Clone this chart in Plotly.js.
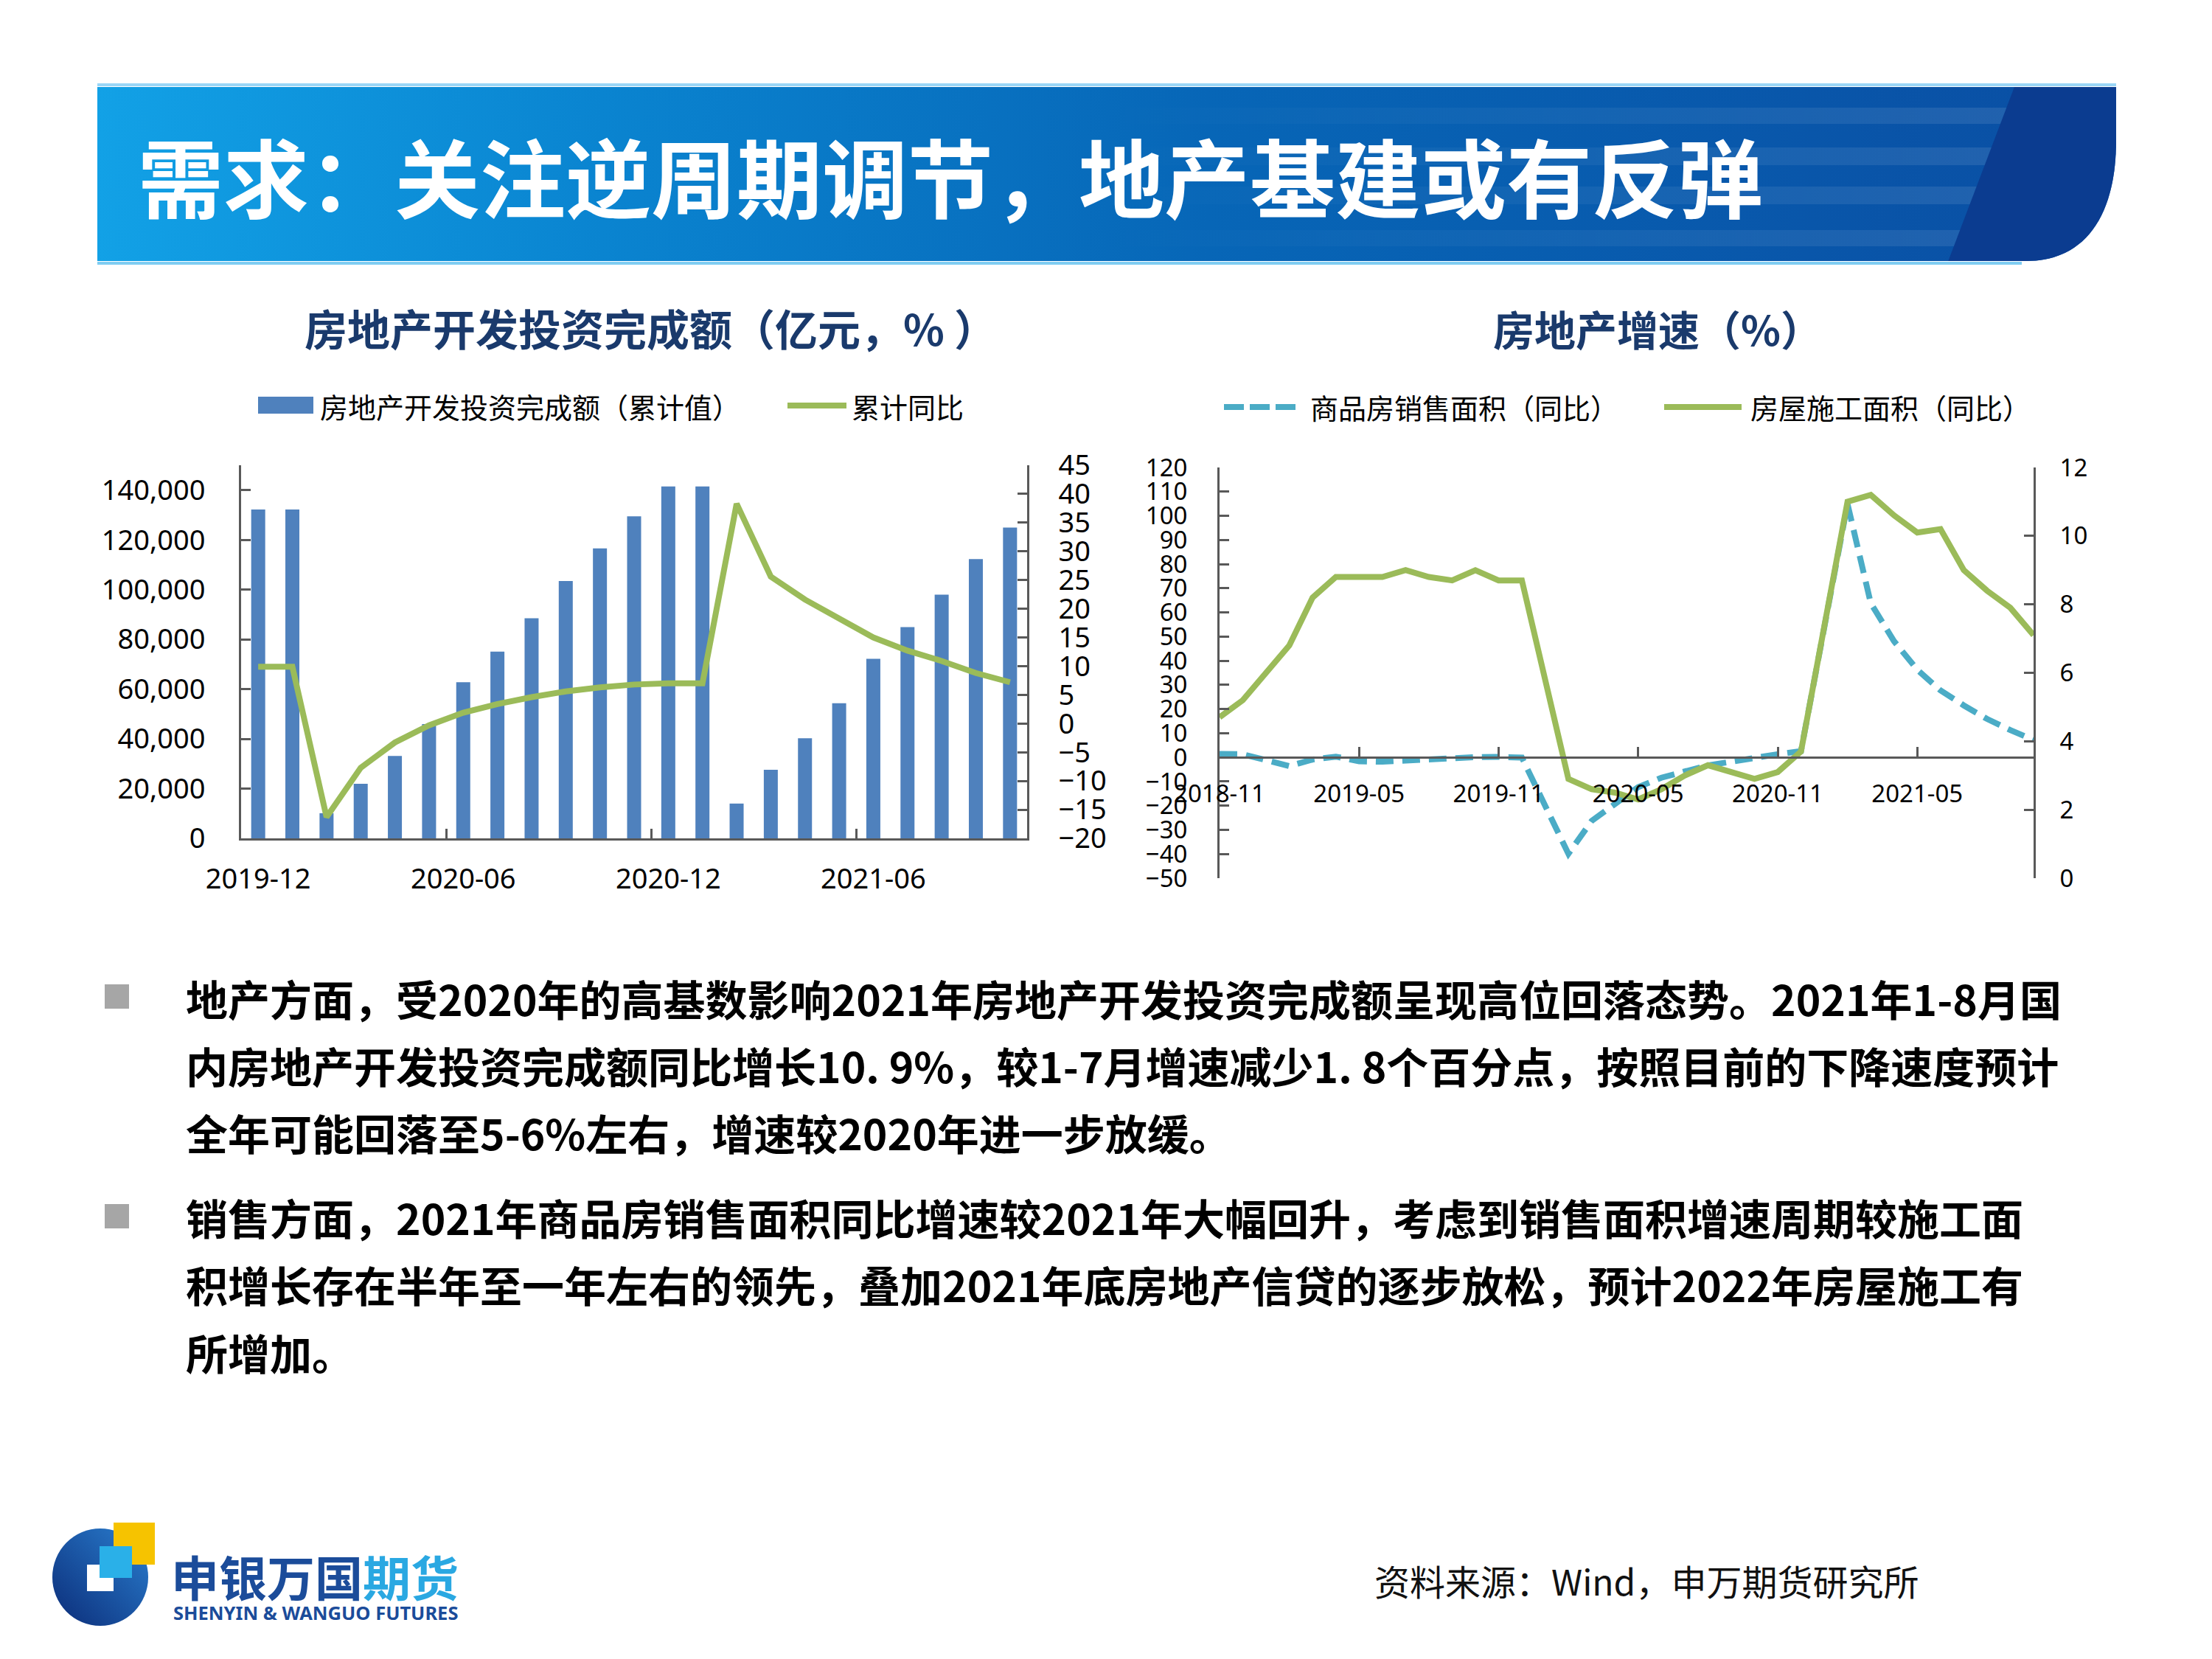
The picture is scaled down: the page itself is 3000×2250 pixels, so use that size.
<!DOCTYPE html>
<html><head><meta charset="utf-8">
<script src="https://cdn.plot.ly/plotly-3.0.1.min.js"></script>
<style>html,body{margin:0;padding:0;background:#fff;}#chart{width:3000px;height:2250px;}</style>
</head><body><div id="chart"></div>
<script>
// ---------- data ----------
const investMonths = ['2019-12','2020-01','2020-02','2020-03','2020-04','2020-05','2020-06','2020-07','2020-08','2020-09','2020-10','2020-11','2020-12','2021-01','2021-02','2021-03','2021-04','2021-05','2021-06','2021-07','2021-08','2021-09','2021-10'];
const investCumulative = [132194,132194,10115,21963,33103,45920,62780,75096,88454,103484,116556,129492,141443,141443,13986,27576,40240,54318,72179,84895,98010,112278,124934];
const investYoY = [9.9,9.9,-16.3,-7.7,-3.3,-0.3,1.9,3.4,4.6,5.6,6.3,6.8,7.0,7.0,38.3,25.6,21.6,18.3,15.0,12.7,10.9,8.8,7.2];

const areaMonths = ['2018-11','2018-12','2019-01','2019-02','2019-03','2019-04','2019-05','2019-06','2019-07','2019-08','2019-09','2019-10','2019-11','2019-12','2020-01','2020-02','2020-03','2020-04','2020-05','2020-06','2020-07','2020-08','2020-09','2020-10','2020-11','2020-12','2021-01','2021-02','2021-03','2021-04','2021-05','2021-06','2021-07','2021-08','2021-09','2021-10'];
const salesAreaYoY = [1.4,1.3,null,-3.6,-0.9,0.3,-1.6,-1.8,-1.3,-0.6,-0.1,0.1,0.2,-0.1,null,-39.9,-26.3,-19.3,-12.3,-8.4,-5.8,-3.3,-1.8,0.0,1.3,2.6,null,104.9,63.8,48.1,36.3,27.7,21.5,15.9,11.3,7.2];
const constructionAreaYoY = [4.7,5.2,null,6.8,8.2,8.8,8.8,8.8,9.0,8.8,8.7,9.0,8.7,8.7,null,2.9,2.6,2.5,2.3,2.6,3.0,3.3,3.1,2.9,3.1,3.7,null,11.0,11.2,10.6,10.1,10.2,9.0,8.4,7.9,7.1];

const pageTitle = '需求：关注逆周期调节，地产基建或有反弹';
const leftTitle = '房地产开发投资完成额（亿元，% ）';
const rightTitle = '房地产增速（%）';
const legendNames = ['房地产开发投资完成额（累计值）','累计同比','商品房销售面积（同比）','房屋施工面积（同比）'];
const bodyLines = [
  '地产方面，受2020年的高基数影响2021年房地产开发投资完成额呈现高位回落态势。2021年1-8月国',
  '内房地产开发投资完成额同比增长10. 9%，较1-7月增速减少1. 8个百分点，按照目前的下降速度预计',
  '全年可能回落至5-6%左右，增速较2020年进一步放缓。',
  '销售方面，2021年商品房销售面积同比增速较2021年大幅回升，考虑到销售面积增速周期较施工面',
  '积增长存在半年至一年左右的领先，叠加2021年底房地产信贷的逐步放松，预计2022年房屋施工有',
  '所增加。'
];
const sourceText = '资料来源：Wind，申万期货研究所';

// ---------- helpers ----------
const W = 3000, H = 2250;
const px = x => x / W;
const py = y => 1 - y / H;
const CJK = '"Noto Sans CJK SC", "Noto Sans", sans-serif';
const NUM = '"Noto Sans", "Liberation Sans", Arial, sans-serif';
const BLUE = '#4F81BD', GREEN = '#9BBB59', CYAN = '#4BACC6', AX = '#595959';

// ---------- decoration (banner + logo graphic) ----------
const svg = `<svg xmlns="http://www.w3.org/2000/svg" width="3000" height="2250" viewBox="0 0 3000 2250">
<defs>
<linearGradient id="g" x1="0" y1="0" x2="1" y2="0">
<stop offset="0" stop-color="#12A1E6"/><stop offset="0.25" stop-color="#0A84D0"/>
<stop offset="0.55" stop-color="#0766B7"/><stop offset="1" stop-color="#0A4EA3"/></linearGradient>
<linearGradient id="s" x1="0" y1="0" x2="1" y2="0">
<stop offset="0" stop-color="#ffffff" stop-opacity="0"/><stop offset="1" stop-color="#ffffff" stop-opacity="0.11"/></linearGradient>
<clipPath id="c"><path d="M132,118 H2870 V190 C2870,290 2830,354 2748,354 H132 Z"/></clipPath>
<linearGradient id="lg" x1="1" y1="0" x2="0" y2="1">
<stop offset="0" stop-color="#2A7FD0"/><stop offset="1" stop-color="#0B2C78"/></linearGradient>
</defs>
<path d="M132,118 H2870 V190 C2870,290 2830,354 2748,354 H132 Z" fill="url(#g)"/>
<g clip-path="url(#c)">
<rect x="1500" y="146" width="1400" height="22" fill="url(#s)"/>
<rect x="1500" y="200" width="1400" height="24" fill="url(#s)"/>
<rect x="1500" y="253" width="1400" height="24" fill="url(#s)"/>
<rect x="1500" y="312" width="1400" height="22" fill="url(#s)"/>
<path d="M2735,110 H2900 V360 H2640 Z" fill="#0B3C90"/>
</g>
<rect x="132" y="113" width="2738" height="4" fill="#9AD6F6"/>
<rect x="132" y="355" width="2610" height="4" fill="#7FCDF2"/>
<ellipse cx="136" cy="2139" rx="65" ry="66" fill="url(#lg)"/>
<rect x="154" y="2065" width="56" height="57" fill="#F6C300"/>
<rect x="118" y="2122" width="36" height="36" fill="#ffffff"/>
<rect x="135" y="2097" width="44" height="43" fill="#2AB0E8"/>
</svg>`;
const decoSrc = 'data:image/svg+xml;charset=utf-8,' + encodeURIComponent(svg);

// ---------- chart geometry ----------
const L = {x0: 327, x1: 1393, yTop: 631, yBot: 1137};
const R = {x0: 1654, x1: 2758, yTop: 634, yBot: 1191};
const yRangeR = [-50, 120];
const rDom = [py(R.yBot), py(R.yTop)];
const zeroPos = rDom[0] + (0 - yRangeR[0]) / (yRangeR[1] - yRangeR[0]) * (rDom[1] - rDom[0]);

const base = {showline: true, linecolor: AX, linewidth: 3, ticks: 'inside', ticklen: 13, tickwidth: 3,
  tickcolor: AX, showgrid: false, zeroline: false, automargin: false, fixedrange: true};
const fontL = {family: NUM, size: 38, color: '#000'};
const fontR = {family: NUM, size: 33, color: '#000'};

const traces = [
  {type: 'bar', name: legendNames[0], x: investMonths, y: investCumulative, xaxis: 'x', yaxis: 'y',
   marker: {color: BLUE}, hoverinfo: 'skip'},
  {type: 'scatter', mode: 'lines', name: legendNames[1], x: investMonths, y: investYoY, xaxis: 'x', yaxis: 'y2',
   line: {color: GREEN, width: 8}, hoverinfo: 'skip'},
  {type: 'scatter', mode: 'lines', name: legendNames[2], x: areaMonths, y: salesAreaYoY, xaxis: 'x2', yaxis: 'y3',
   connectgaps: true, line: {color: CYAN, width: 8, dash: '24px,12px'}, hoverinfo: 'skip'},
  {type: 'scatter', mode: 'lines', name: legendNames[3], x: areaMonths, y: constructionAreaYoY, xaxis: 'x2', yaxis: 'y4',
   connectgaps: true, line: {color: GREEN, width: 8}, hoverinfo: 'skip'}
];

// ---------- annotations & shapes ----------
const ann = [];
const shapes = [];
function text(t, x, y, size, color, opts) {
  ann.push(Object.assign({text: t, x: px(x), y: py(y), xref: 'paper', yref: 'paper', showarrow: false,
    xanchor: 'left', yanchor: 'middle', font: {family: CJK, size: size, color: color}}, opts || {}));
}
text(pageTitle, 185, 236, 116, '#ffffff', {font: {family: CJK, size: 116, color: '#ffffff', weight: 'bold'}});
text(leftTitle, 882, 444, 58, '#1A3A6C', {xanchor: 'center', font: {family: CJK, size: 58, color: '#1A3A6C', weight: 'bold'}});
text(rightTitle, 2248, 444, 56, '#1A3A6C', {xanchor: 'center', font: {family: CJK, size: 56, color: '#1A3A6C', weight: 'bold'}});

// legends
shapes.push({type: 'rect', xref: 'paper', yref: 'paper', x0: px(350), x1: px(425), y0: py(561), y1: py(538), fillcolor: BLUE, line: {width: 0}});
text(legendNames[0], 432, 550, 38, '#000');
shapes.push({type: 'line', xref: 'paper', yref: 'paper', x0: px(1068), x1: px(1148), y0: py(550), y1: py(550), line: {color: GREEN, width: 8}});
text(legendNames[1], 1153, 550, 38, '#000');
shapes.push({type: 'line', xref: 'paper', yref: 'paper', x0: px(1660), x1: px(1757), y0: py(552), y1: py(552), line: {color: CYAN, width: 8, dash: '27px,8px'}});
text(legendNames[2], 1775, 552, 38, '#000');
shapes.push({type: 'line', xref: 'paper', yref: 'paper', x0: px(2257), x1: px(2362), y0: py(552), y1: py(552), line: {color: GREEN, width: 8}});
text(legendNames[3], 2372, 552, 38, '#000');

// body
const lineY = [1353, 1444, 1535, 1650, 1741, 1833];
bodyLines.forEach((t, i) => text(t, 250, lineY[i], 57, '#000', {font: {family: CJK, size: 57, color: '#000', weight: 'bold'}}));
[1352, 1650].forEach(y => shapes.push({type: 'rect', xref: 'paper', yref: 'paper', x0: px(142), x1: px(175), y0: py(y + 16), y1: py(y - 17), fillcolor: '#A6A6A6', line: {width: 0}}));

// source & logo text
text(sourceText, 1862, 2143, 48, '#111');
text('<span style="color:#1B4C9A">申银万国</span><span style="color:#2AA8E2">期货</span>', 230, 2137, 65, '#1B4C9A', {font: {family: CJK, size: 65, color: '#1B4C9A', weight: 'bold'}});
text('SHENYIN &amp; WANGUO FUTURES', 233, 2187, 25.5, '#1B4C9A', {font: {family: NUM, size: 25.5, color: '#1B4C9A', weight: 'bold'}});

const layout = {
  width: W, height: H, margin: {l: 0, r: 0, t: 0, b: 0}, autosize: false,
  paper_bgcolor: '#ffffff', plot_bgcolor: 'rgba(0,0,0,0)', showlegend: false, bargap: 0.59,
  images: [{source: decoSrc, xref: 'paper', yref: 'paper', x: 0, y: 1, sizex: 1, sizey: 1, xanchor: 'left', yanchor: 'top', sizing: 'stretch', layer: 'below'}],
  xaxis: Object.assign({}, base, {domain: [px(L.x0), px(L.x1)], anchor: 'y', type: 'category', range: [-0.5, investMonths.length - 0.5],
    tickmode: 'linear', tick0: 0, dtick: 6, tickson: 'boundaries', tickangle: 0, tickfont: fontL, ticklabelstandoff: 19}),
  yaxis: Object.assign({}, base, {domain: [py(L.yBot), py(L.yTop)], anchor: 'x', range: [0, 150000], dtick: 20000,
    tickformat: ',d', tickfont: fontL, ticklabelstandoff: 38}),
  yaxis2: Object.assign({}, base, {domain: [py(L.yBot), py(L.yTop)], anchor: 'x', overlaying: 'y', side: 'right',
    range: [-20, 45], dtick: 5, tickfont: fontL, ticklabelstandoff: 32}),
  xaxis2: Object.assign({}, base, {domain: [px(R.x0), px(R.x1)], anchor: 'free', position: zeroPos, type: 'category',
    range: [0, areaMonths.length - 1], tickmode: 'linear', tick0: 0, dtick: 6, tickangle: 0, tickfont: fontR, ticklabelstandoff: 19}),
  yaxis3: Object.assign({}, base, {domain: rDom, anchor: 'x2', range: yRangeR, dtick: 10, tickfont: fontR, ticklabelstandoff: 34}),
  yaxis4: Object.assign({}, base, {domain: rDom, anchor: 'x2', overlaying: 'y3', side: 'right', range: [0, 12], dtick: 2,
    tickfont: fontR, ticklabelstandoff: 26}),
  annotations: ann, shapes: shapes
};

Plotly.newPlot('chart', traces, layout, {staticPlot: true, displayModeBar: false});
</script></body></html>
